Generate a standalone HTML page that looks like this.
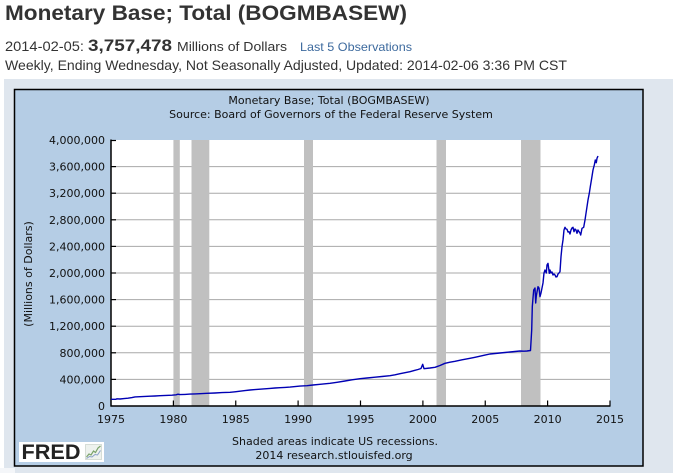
<!DOCTYPE html>
<html>
<head>
<meta charset="utf-8">
<style>
  html, body { margin:0; padding:0; background:#ffffff; }
  body { width:677px; height:473px; overflow:hidden; }
  svg { display:block; }
  .h { font-family:"Liberation Sans", Arial, sans-serif; fill:#333333; }
  .c { font-family:"DejaVu Sans", Verdana, sans-serif; font-size:11px; fill:#111111; }
</style>
</head>
<body>
<svg width="677" height="473" viewBox="0 0 677 473" xmlns="http://www.w3.org/2000/svg">
  <!-- Header -->
  <text class="h" x="5" y="20" font-size="21" font-weight="bold" textLength="402" lengthAdjust="spacingAndGlyphs">Monetary Base; Total (BOGMBASEW)</text>
  <text class="h" x="5" y="51" font-size="14" textLength="79" lengthAdjust="spacingAndGlyphs">2014-02-05:</text>
  <text class="h" x="88" y="51" font-size="17" font-weight="bold" textLength="84" lengthAdjust="spacingAndGlyphs">3,757,478</text>
  <text class="h" x="177" y="51" font-size="13" textLength="110" lengthAdjust="spacingAndGlyphs">Millions of Dollars</text>
  <text class="h" x="300" y="51" font-size="12" style="fill:#3d6a9e" textLength="112" lengthAdjust="spacingAndGlyphs">Last 5 Observations</text>
  <text class="h" x="5" y="70" font-size="14" textLength="562" lengthAdjust="spacingAndGlyphs">Weekly, Ending Wednesday, Not Seasonally Adjusted, Updated: 2014-02-06 3:36 PM CST</text>

  <!-- Outer panel -->
  <rect x="4" y="79" width="669" height="394" fill="#dfe6ee"/>
  <rect x="0" y="468" width="15" height="5" fill="#f4f6f9"/>

  <!-- Inner chart box -->
  <rect x="14.5" y="89.5" width="628.5" height="376.5" fill="#b5cde5" stroke="#000" stroke-width="1.5"/>

  <!-- Chart titles -->
  <text class="c" x="329" y="104" text-anchor="middle">Monetary Base; Total (BOGMBASEW)</text>
  <text class="c" x="331" y="118" text-anchor="middle">Source: Board of Governors of the Federal Reserve System</text>

  <!-- Plot area -->
  <rect x="111" y="140" width="499" height="266" fill="#ffffff"/>

  <!-- Grid lines -->
  <g stroke="#a8a8a8" stroke-width="1">
    <line x1="111" x2="610" y1="379.4" y2="379.4"/>
    <line x1="111" x2="610" y1="352.8" y2="352.8"/>
    <line x1="111" x2="610" y1="326.2" y2="326.2"/>
    <line x1="111" x2="610" y1="299.6" y2="299.6"/>
    <line x1="111" x2="610" y1="273" y2="273"/>
    <line x1="111" x2="610" y1="246.4" y2="246.4"/>
    <line x1="111" x2="610" y1="219.8" y2="219.8"/>
    <line x1="111" x2="610" y1="193.2" y2="193.2"/>
    <line x1="111" x2="610" y1="166.6" y2="166.6"/>
  </g>

  <!-- Recession bars -->
  <g fill="#c0c0c0">
    <rect x="173.4" y="140" width="6.4" height="266"/>
    <rect x="191.5" y="140" width="17.8" height="266"/>
    <rect x="304" y="140" width="9" height="266"/>
    <rect x="436.5" y="140" width="9.5" height="266"/>
    <rect x="521" y="140" width="19.5" height="266"/>
  </g>

  <!-- Axes -->
  <g stroke="#000" stroke-width="1.5">
    <line x1="111" y1="139.5" x2="111" y2="406.5"/>
    <line x1="110.5" y1="406" x2="610.5" y2="406"/>
  </g>
  <g stroke="#000" stroke-width="1.2">
    <line x1="111" x2="116" y1="140.5" y2="140.5"/>
    <line x1="111" x2="116" y1="166.6" y2="166.6"/>
    <line x1="111" x2="116" y1="193.2" y2="193.2"/>
    <line x1="111" x2="116" y1="219.8" y2="219.8"/>
    <line x1="111" x2="116" y1="246.4" y2="246.4"/>
    <line x1="111" x2="116" y1="273" y2="273"/>
    <line x1="111" x2="116" y1="299.6" y2="299.6"/>
    <line x1="111" x2="116" y1="326.2" y2="326.2"/>
    <line x1="111" x2="116" y1="352.8" y2="352.8"/>
    <line x1="111" x2="116" y1="379.4" y2="379.4"/>
    <line x1="173.4" x2="173.4" y1="406" y2="400.5"/>
    <line x1="235.75" x2="235.75" y1="406" y2="400.5"/>
    <line x1="298.1" x2="298.1" y1="406" y2="400.5"/>
    <line x1="360.5" x2="360.5" y1="406" y2="400.5"/>
    <line x1="422.9" x2="422.9" y1="406" y2="400.5"/>
    <line x1="485.25" x2="485.25" y1="406" y2="400.5"/>
    <line x1="547.6" x2="547.6" y1="406" y2="400.5"/>
    <line x1="610" x2="610" y1="406" y2="400.5"/>
  </g>

  <!-- Series -->
  <polyline fill="none" stroke="#0000b4" stroke-width="1.4" stroke-linejoin="round" points="
    111,399.3 116,399.3 117,398.8 120,399 124,398.6 128,398.2 132,397.6 135,396.9 140,396.7 145,396.4 150,396.2 155,396 160,395.7
    166,395.4 172,395.2 176,394.8 178,394.2 180,394.6 185,394.4 190,394.1 195,393.9 200,393.7 207,393.3 215,393.0 222,392.6
    230,392.3 235,391.8 240,391.2 245,390.6 250,390.0 255,389.6 260,389.2 265,388.8 270,388.4 275,388 280,387.7 285,387.4
    290,387.1 295,386.6 300,386.1 307,385.7 313,385 320,384.3 325,383.8 330,383.3 337,382.3 345,381.0 352,379.8 360,378.7
    367,378 375,377.2 382,376.5 390,375.7 395,374.8 400,373.7 405,372.7 410,371.7 414,370.6 418,369.5 421,368.5 422.7,364.3
    424,368.7 430,368 435,367.3 440,365.5 445,363.3 450,362.2 455,361.3 462,359.8 470,358.3 475,357.3 480,356.2 485,355.1
    490,354.0 495,353.5 500,353.0 505,352.5 510,352.0 515,351.5 520,351.0 524,351.2 527,351.0 530.5,350.5
    531.7,330 532.3,306.7 533,298 533.7,290 535,288 535.7,303 536.3,296 537,292 538,286.7 539,288 540,296.7 541,293
    542,288 543,283 544,273 545,270 546.3,273 547,265 548,263.3 549.3,273.3 550,270 551,273 552,272 553,275 554,274
    555,275 556,277 557,276.7 558,274 559,273 560,271.7 561,256.7 562,246.7 563,240 564,230 565,227.3 566,229 567,229.3
    568,232 569,231.7 570,234 571,230 572,228 573,227.3 574,231.7 575,229 576,230 577,233.3 578,230 579,231.7 580,233
    580.7,235 581.5,231 582,228.3 583.7,227.3 585,220 586,213.3 587,206.7 588,200 589.3,193.3 590.3,186.7 591.7,178.3
    593,170 594.3,165 595.3,160 596.3,162.7 597,158.3 598,156"/>

  <!-- Y tick labels -->
  <g class="c" text-anchor="end">
    <text class="c" x="105" y="410">0</text>
    <text class="c" x="105" y="383.4">400,000</text>
    <text class="c" x="105" y="356.8">800,000</text>
    <text class="c" x="105" y="330.2">1,200,000</text>
    <text class="c" x="105" y="303.6">1,600,000</text>
    <text class="c" x="105" y="277">2,000,000</text>
    <text class="c" x="105" y="250.4">2,400,000</text>
    <text class="c" x="105" y="223.8">2,800,000</text>
    <text class="c" x="105" y="197.2">3,200,000</text>
    <text class="c" x="105" y="170.6">3,600,000</text>
    <text class="c" x="105" y="144">4,000,000</text>
  </g>

  <!-- X tick labels -->
  <g text-anchor="middle">
    <text class="c" x="111" y="423">1975</text>
    <text class="c" x="173.4" y="423">1980</text>
    <text class="c" x="235.75" y="423">1985</text>
    <text class="c" x="298.1" y="423">1990</text>
    <text class="c" x="360.5" y="423">1995</text>
    <text class="c" x="422.9" y="423">2000</text>
    <text class="c" x="485.25" y="423">2005</text>
    <text class="c" x="547.6" y="423">2010</text>
    <text class="c" x="610" y="423">2015</text>
  </g>

  <!-- Y axis title -->
  <text class="c" x="0" y="0" text-anchor="middle" transform="translate(32,274) rotate(-90)">(Millions of Dollars)</text>

  <!-- Footer text -->
  <text class="c" x="335" y="445" text-anchor="middle">Shaded areas indicate US recessions.</text>
  <text class="c" x="334" y="459" text-anchor="middle">2014 research.stlouisfed.org</text>

  <!-- FRED logo -->
  <rect x="19" y="442" width="85" height="20" fill="#ffffff"/>
  <text x="21.5" y="459" font-family="Liberation Sans, Arial, sans-serif" font-size="21" font-weight="bold" fill="#222222" textLength="59" lengthAdjust="spacingAndGlyphs">FRED</text>
  <rect x="85.5" y="444.5" width="16" height="15" fill="#eef2ee" stroke="#cfd6cf" stroke-width="0.8"/>
  <polyline fill="none" stroke="#7aa36a" stroke-width="1.2" points="86.5,457 89,454 91,455 93.5,451 95.5,452.5 98,448 100.5,446"/>
  <polyline fill="none" stroke="#8aa0c8" stroke-width="1" points="86.5,458.5 89.5,456.5 92,457 95,454.5 97.5,455 100.5,450.5"/>
</svg>
</body>
</html>
